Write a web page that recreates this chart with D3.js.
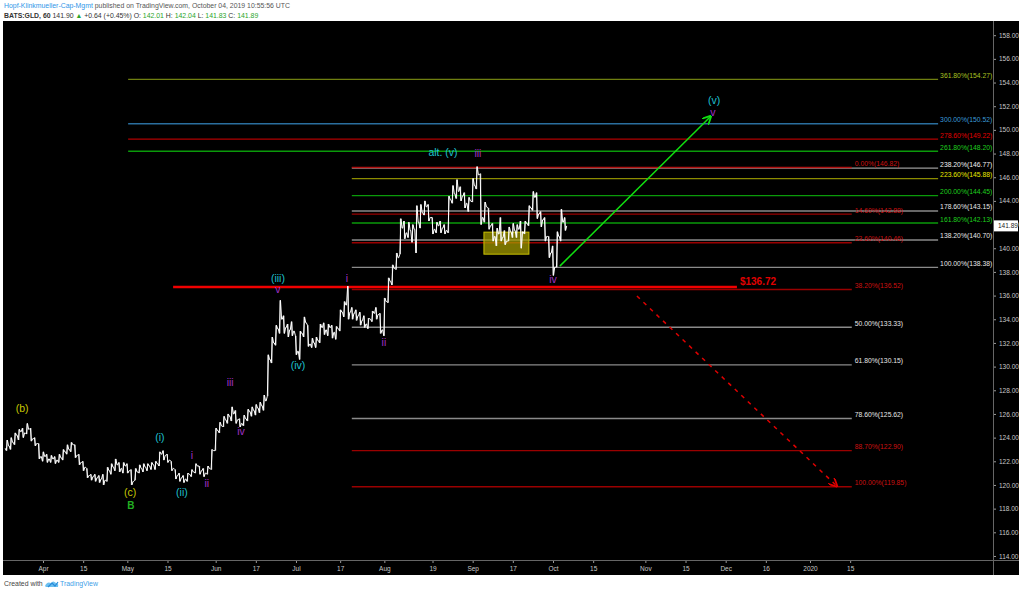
<!DOCTYPE html>
<html><head><meta charset="utf-8">
<script src="https://cdn.jsdelivr.net/npm/d3@7"></script>
<style>
body{margin:0;background:#fff;}
svg{display:block;font-family:"Liberation Sans",Arial,sans-serif;}
</style>
</head><body>
<svg id="c" width="1024" height="594"></svg>
<script>
// ---------------- DATA ----------------
// bar index: 0 = 2019-04-01 (trading days); first bar = Mar 19 2019 (index -9)
const firstIndex = -9;
const firstOpen = 123.1;
const highs = [123.8,124.0,124.4,124.7,124.8,125.2,124.8,124.0,123.5,
 122.8,122.6,122.5,122.4,122.6,123.0,123.4,123.6,123.4,122.6,122.0,121.4,120.9,120.9,120.8,120.9,121.5,121.8,122.2,121.9,121.9,
 121.8,121.3,121.4,121.7,121.8,121.8,121.9,122.0,122.8,122.9,122.6,122.0,121.3,121.0,120.8,121.0,121.3,121.8,121.6,121.4,121.6,123.0,
 124.8,125.3,125.8,126.0,126.6,126.3,125.6,125.9,126.4,126.6,126.8,127.0,127.6,131.0,132.5,133.5,135.6,134.3,133.6,133.8,
 132.6,133.0,134.2,133.5,132.4,132.5,133.6,133.7,133.6,133.5,133.4,134.8,135.5,136.8,135.0,134.8,134.6,134.3,134.1,134.7,135.0,134.5,
 135.8,137.5,138.6,139.6,142.5,142.3,142.2,142.0,143.6,143.7,144.0,143.7,142.6,142.2,142.3,142.0,144.4,145.3,145.8,145.2,144.7,144.3,
 145.9,146.9,146.3,143.9,143.4,142.1,141.7,142.6,141.5,141.8,142.1,142.0,142.3,142.3,143.6,144.8,144.7,143.1,142.6,141.0,
 140.2,141.4,143.3,142.6];
const lows = [122.9,123.0,123.4,123.8,124.0,124.3,123.7,123.3,122.2,
 122.0,121.9,121.9,121.8,121.9,122.1,122.6,122.8,122.3,121.7,121.2,120.6,120.4,120.3,120.2,120.0,120.3,120.9,121.2,121.1,121.0,
 121.0,120.0,120.4,121.0,121.1,121.2,121.3,121.3,121.6,122.1,121.9,121.2,120.5,120.3,120.2,120.3,120.7,121.0,120.9,120.7,120.9,121.3,
 122.9,124.4,124.9,125.2,125.4,125.2,124.9,125.0,125.4,125.8,125.9,126.1,126.3,127.5,130.3,131.8,132.8,132.8,132.5,132.6,
 131.0,130.6,132.5,131.7,131.6,131.6,132.0,132.7,132.6,132.4,132.3,133.0,134.2,134.0,134.0,133.9,133.5,133.3,133.2,133.8,134.0,132.8,
 132.6,135.4,136.9,138.2,139.5,140.8,140.9,140.5,139.6,141.7,142.8,142.3,141.2,141.3,141.3,141.2,141.3,143.8,144.2,144.0,143.4,143.1,
 143.9,145.0,142.0,142.2,141.6,140.6,140.2,140.6,140.3,140.6,140.9,140.9,140.0,141.2,141.9,143.2,142.5,141.8,140.6,139.2,
 137.7,138.4,140.6,141.5];
const closes = [123.3,123.6,124.2,124.5,124.4,124.7,123.9,123.5,122.4,
 122.4,122.2,122.2,122.1,122.3,122.8,123.0,123.4,122.5,121.9,121.5,120.8,120.7,120.6,120.5,120.4,121.2,121.5,121.7,121.4,121.6,
 121.2,120.3,121.1,121.4,121.5,121.6,121.7,121.8,122.6,122.5,122.1,121.4,120.8,120.6,120.5,120.9,121.1,121.6,121.2,121.0,121.4,122.9,
 124.6,125.0,125.5,125.8,126.0,125.5,125.2,125.6,126.2,126.3,126.5,126.7,127.1,130.6,132.0,133.2,134.0,133.3,133.1,133.0,
 131.3,132.8,133.7,131.9,132.0,132.2,133.3,133.1,133.3,132.9,133.2,134.6,135.2,134.6,134.5,134.3,133.9,133.6,134.0,134.5,134.4,133.1,
 135.5,137.2,138.3,139.2,141.7,141.3,141.5,141.6,142.2,143.0,143.5,142.6,141.6,141.9,141.7,141.5,144.1,144.6,144.8,144.4,143.8,144.0,
 145.3,146.2,142.6,143.5,141.9,141.0,141.2,140.9,140.6,141.4,141.5,141.6,141.4,142.1,143.4,144.3,142.9,142.4,141.0,139.6,
 138.4,141.0,142.2,141.89];

// axis ticks
const yTicks = [114,116,118,120,122,124,126,128,130,132,134,136,138,140,142,144,146,148,150,152,154,156,158];
const xTickIdx = [0,10,21,31,43,53,63,74,85,97,107,117,127,137,150,160,170,180,191,201];
const xTickLabels = ["Apr","15","May","15","Jun","17","Jul","17","Aug","19","Sep","17","Oct","15","Nov","15","Dec","16","2020","15"];

// fib extension (levels / prices / colours)
const extLevels = ["100.00%","138.20%","161.80%","178.60%","200.00%","223.60%","238.20%","261.80%","278.60%","300.00%","361.80%"];
const extPrices = [138.38,140.70,142.13,143.15,144.45,145.88,146.77,148.20,149.22,150.52,154.27];
const extLine   = ["#8a8a8a","#8a8a8a","#0a9a0a","#8a8a8a","#0a9a0a","#8c8c00","#9a9a9a","#0a9a0a","#b00000","#2a6e9e","#6f7f10"];
const extText   = ["#e6e6e6","#e6e6e6","#1fcf1f","#e6e6e6","#1fcf1f","#e8e800","#f0f0f0","#1fcf1f","#e00000","#3a9ad8","#a8c020"];
const extStart  = [76.9,76.9,76.9,76.9,76.9,76.9,76.9,21.2,21.2,21.2,21.2];
const extEnd = 222.9;

// fib retracement
const retLevels = ["0.00%","14.60%","23.60%","38.20%","50.00%","61.80%","78.60%","88.70%","100.00%"];
const retPrices = [146.82,142.88,140.46,136.52,133.33,130.15,125.62,122.90,119.85];
const retLine   = ["#b01010","#9a0000","#9a0000","#9a0000","#8a8a8a","#8a8a8a","#8a8a8a","#9a0000","#9a0000"];
const retText   = ["#cc1010","#cc1010","#cc1010","#cc1010","#e6e6e6","#e6e6e6","#e6e6e6","#cc1010","#cc1010"];
const retStart = 76.9, retEnd = 201.4;

// key level
const keyLevel = 136.72, keyStart = 32.4, keyEnd = 172.8;

// wave labels: text, bar index, price, colour
const waveText  = ["(b)","(c)","B","(i)","(ii)","i","ii","iii","iv","(iii)","v","(iv)","i","ii","alt. (v)","iii","iv","(v)","v"];
const waveIdx   = [-5.2,21.7,21.9,29.1,34.6,37.1,40.8,46.6,49.3,58.5,58.5,63.5,75.7,84.9,99.6,108.3,127.0,167.1,166.8];
const wavePrice = [126.40,119.30,118.20,123.95,119.30,122.43,120.06,128.60,124.46,137.38,136.46,130.04,137.38,131.98,148.03,147.95,137.30,152.42,151.41];
const waveColor = ["#c8c800","#c8c800","#22b022","#1ec0d0","#1ec0d0","#a030c8","#a030c8","#a030c8","#a030c8","#1ec0d0","#a030c8","#1ec0d0","#a030c8","#a030c8","#1ec0d0","#a030c8","#a030c8","#1ec0d0","#a030c8"];

// projections
const bullArrow = {i0:128.7, p0:138.49, i1:166.3, p1:151.16};
const bearArrow = {i0:147.9, p0:135.96, i1:197.7, p1:119.9};
const box = {i0:109.8, i1:121.0, p0:141.36, p1:139.5};
const lastPrice = 141.89;

// ---------------- DRAW ----------------
const svg = d3.select("#c");
const L = 3, R = 993, T = 21, B = 560, BOTTOM = 575, RIGHT = 1019;

const x = d3.scaleLinear().domain([0,127]).range([43,553]);
const y = d3.scaleLinear().domain([113.66,159.2]).range([B,T]);

svg.append("rect").attr("x",L).attr("y",T).attr("width",RIGHT-L).attr("height",BOTTOM-T).attr("fill","#000");

svg.append("defs").append("clipPath").attr("id","plot")
  .append("rect").attr("x",L).attr("y",T).attr("width",R-L).attr("height",B-T);
const defs = svg.select("defs");
function marker(id,color){
  defs.append("marker").attr("id",id).attr("viewBox","0 0 10 10").attr("refX",9).attr("refY",5)
   .attr("markerWidth",6).attr("markerHeight",6).attr("orient","auto")
   .append("path").attr("d","M0,0 L10,5 L0,10").attr("fill","none").attr("stroke",color).attr("stroke-width",2);
}
marker("ag","#10e010"); marker("ar","#e00000");

const g = svg.append("g").attr("clip-path","url(#plot)");

// header
const hdr = svg.append("text").attr("x",4).attr("y",8).attr("font-size",6.9).attr("fill","#555");
hdr.append("tspan").attr("fill","#2e96e8").text("Hopf-Klinkmueller-Cap-Mgmt");
hdr.append("tspan").text(" published on TradingView.com, October 04, 2019 10:55:56 UTC");
const h2 = svg.append("text").attr("x",4).attr("y",18).attr("font-size",6.9).attr("fill","#333");
h2.append("tspan").attr("font-weight","bold").text("BATS:GLD, 60");
h2.append("tspan").text("  141.90 ");
h2.append("tspan").attr("fill","#2aa52a").text("▲");
h2.append("tspan").text(" +0.64 (+0.45%)  O: ");
h2.append("tspan").attr("fill","#2aa52a").text("142.01");
h2.append("tspan").text("  H: ");
h2.append("tspan").attr("fill","#2aa52a").text("142.04");
h2.append("tspan").text("  L: ");
h2.append("tspan").attr("fill","#2aa52a").text("141.83");
h2.append("tspan").text("  C: ");
h2.append("tspan").attr("fill","#2aa52a").text("141.89");

// fib extension lines
extPrices.forEach((p,k)=>{
  g.append("line").attr("x1",x(extStart[k])).attr("x2",x(extEnd)).attr("y1",y(p)).attr("y2",y(p))
   .attr("stroke",extLine[k]).attr("stroke-width",1.4);
});
// retracement lines
retPrices.forEach((p,k)=>{
  g.append("line").attr("x1",x(retStart)).attr("x2",x(retEnd)).attr("y1",y(p)).attr("y2",y(p))
   .attr("stroke",retLine[k]).attr("stroke-width",1.4);
});
extPrices.forEach((p,k)=>{
  g.append("text").attr("x",x(extEnd)+2).attr("y",y(p)-1.5).attr("font-size",6.8)
   .attr("fill",extText[k]).text(`${extLevels[k]}(${p.toFixed(2)})`);
});
retPrices.forEach((p,k)=>{
  g.append("text").attr("x",x(retEnd)+3).attr("y",y(p)-1.5).attr("font-size",6.8)
   .attr("fill",retText[k]).text(`${retLevels[k]}(${p.toFixed(2)})`);
});

// key level
g.append("line").attr("x1",x(keyStart)).attr("x2",x(keyEnd)).attr("y1",y(keyLevel)).attr("y2",y(keyLevel))
 .attr("stroke","#f00000").attr("stroke-width",2.6);
g.append("text").attr("x",x(keyEnd)+3).attr("y",y(keyLevel)-2.5).attr("font-size",10).attr("font-weight","bold")
 .attr("fill","#e00000").text("$"+keyLevel.toFixed(2));

// box
g.append("rect").attr("x",x(box.i0)).attr("y",y(box.p0)).attr("width",x(box.i1)-x(box.i0)).attr("height",y(box.p1)-y(box.p0))
 .attr("fill","#a8a000").attr("fill-opacity",0.72).attr("stroke","#c8c000").attr("stroke-width",1);

// price bars
const bars = highs.map((h,k)=>({i:firstIndex+k, h, l:lows[k], c:closes[k], o: k===0?firstOpen:closes[k-1]}));
const pts = [];
bars.forEach(b=>{
  pts.push([b.i-0.42,b.o]);
  if(b.c>=b.o){ pts.push([b.i-0.14,b.l]); pts.push([b.i+0.14,b.h]); }
  else { pts.push([b.i-0.14,b.h]); pts.push([b.i+0.14,b.l]); }
  pts.push([b.i+0.42,b.c]);
});
g.append("g").selectAll("line").data(bars).join("line")
 .attr("x1",d=>x(d.i)).attr("x2",d=>x(d.i)).attr("y1",d=>y(d.h)).attr("y2",d=>y(d.l))
 .attr("stroke","#fff").attr("stroke-width",0.8);
g.append("path").attr("d",d3.line().x(d=>x(d[0])).y(d=>y(d[1]))(pts))
 .attr("fill","none").attr("stroke","#fff").attr("stroke-width",1).attr("stroke-linejoin","round");

// arrows
g.append("line").attr("x1",x(bullArrow.i0)).attr("y1",y(bullArrow.p0)).attr("x2",x(bullArrow.i1)).attr("y2",y(bullArrow.p1))
 .attr("stroke","#10e010").attr("stroke-width",1.5).attr("marker-end","url(#ag)");
g.append("line").attr("x1",x(bearArrow.i0)).attr("y1",y(bearArrow.p0)).attr("x2",x(bearArrow.i1)).attr("y2",y(bearArrow.p1))
 .attr("stroke","#e00000").attr("stroke-width",1.5).attr("stroke-dasharray","4,5").attr("marker-end","url(#ar)");

// wave labels
waveText.forEach((t,k)=>{
  g.append("text").attr("x",x(waveIdx[k])).attr("y",y(wavePrice[k])).attr("text-anchor","middle")
   .attr("dominant-baseline","middle").attr("font-size",t==="B"?10:10.5).attr("font-weight",t==="B"?"bold":"normal")
   .attr("fill",waveColor[k]).text(t);
});

// axes
const yAx = svg.append("g").attr("transform",`translate(${R},0)`)
  .call(d3.axisRight(y).tickValues(yTicks).tickFormat(d3.format(".2f")).tickSize(3).tickPadding(3));
yAx.select(".domain").remove();
yAx.selectAll("line").attr("stroke","#999");
yAx.selectAll("text").attr("fill","#c8c8c8").attr("font-size",6.5).attr("font-family","Liberation Sans, Arial, sans-serif");
svg.append("line").attr("x1",R+0.5).attr("x2",R+0.5).attr("y1",T).attr("y2",BOTTOM).attr("stroke","#666").attr("stroke-width",1);

const xAx = svg.append("g").attr("transform",`translate(0,${B})`)
  .call(d3.axisBottom(x).tickValues(xTickIdx).tickFormat((d,k)=>xTickLabels[k]).tickSize(3).tickPadding(3));
xAx.select(".domain").remove();
xAx.selectAll("line").attr("stroke","#999");
xAx.selectAll("text").attr("fill","#c8c8c8").attr("font-size",6.5).attr("font-family","Liberation Sans, Arial, sans-serif");
svg.append("line").attr("x1",L).attr("x2",RIGHT).attr("y1",B+0.5).attr("y2",B+0.5).attr("stroke","#666").attr("stroke-width",1);

// last price tag
svg.append("rect").attr("x",R+1).attr("y",y(lastPrice)-5.5).attr("width",RIGHT-R-2).attr("height",11).attr("fill","#fff");
svg.append("text").attr("x",R+5).attr("y",y(lastPrice)+2.3).attr("font-size",6.5).attr("fill","#222").text(lastPrice.toFixed(2));

// footer
svg.append("text").attr("x",4).attr("y",586).attr("font-size",6.9).attr("fill","#444").text("Created with");
const logo = svg.append("g").attr("transform","translate(45,580)");
logo.append("path").attr("d","M0,6 Q2,1 6,3 Q8,0 11,3 Q14,3 13,7 L1,7 Z").attr("fill","#6cc0f0");
logo.append("path").attr("d","M3,7 L7,3 L10,6 L13,2").attr("fill","none").attr("stroke","#2a8ad8").attr("stroke-width",1.2);
svg.append("text").attr("x",60).attr("y",586).attr("font-size",6.9).attr("fill","#40a0e8").text("TradingView");
</script>
</body></html>
